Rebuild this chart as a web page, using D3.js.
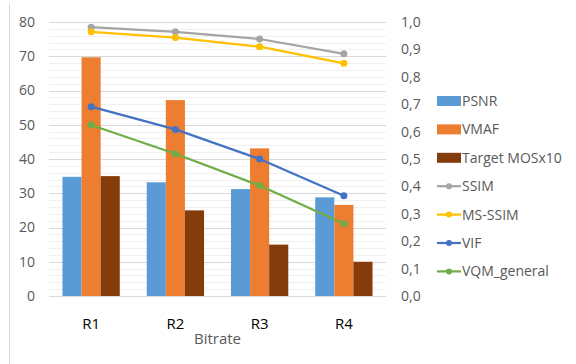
<!DOCTYPE html>
<html>
<head>
<meta charset="utf-8">
<script src="https://cdn.jsdelivr.net/npm/d3@7/dist/d3.min.js"></script>
<style>
  html, body { margin: 0; padding: 0; background: #fff; }
  svg { display: block; font-family: "Open Sans", "DejaVu Sans", sans-serif; }
</style>
</head>
<body>
<svg id="chart" width="576" height="364"></svg>
<script>
// Categories and series
const categories = ["R1", "R2", "R3", "R4"];
const barSeries = ["PSNR", "VMAF", "Target MOSx10"];
const psnr = [34.8, 33.2, 31.2, 28.8];
const vmaf = [69.7, 57.2, 43.1, 26.6];
const targetMos = [35, 25, 15, 10];
const lineSeries = ["SSIM", "MS-SSIM", "VIF", "VQM_general"];
const ssim = [0.981, 0.964, 0.938, 0.884];
const msSsim = [0.964, 0.943, 0.910, 0.849];
const vif = [0.691, 0.608, 0.500, 0.366];
const vqm = [0.624, 0.519, 0.403, 0.264];
const leftTicks = [0, 10, 20, 30, 40, 50, 60, 70, 80];
const rightTicks = [0, 0.1, 0.2, 0.3, 0.4, 0.5, 0.6, 0.7, 0.8, 0.9, 1.0];
const xTitle = "Bitrate";

const barColors = ["#5B9BD5", "#ED7D31", "#843C0C"];
const lineColors = ["#A5A5A5", "#FFC000", "#4472C4", "#70AD47"];

const barData = [psnr, vmaf, targetMos];
const lineData = [ssim, msSsim, vif, vqm];

const svg = d3.select("#chart");
const plot = { left: 49, right: 386, top: 22, bottom: 296 };

const x = d3.scaleBand().domain(categories).range([plot.left, plot.right])
  .paddingInner(0.32).paddingOuter(0.16);
const xInner = d3.scaleBand().domain(barSeries).range([0, x.bandwidth()]);
const yL = d3.scaleLinear().domain([0, 80]).range([plot.bottom, plot.top]);
const yR = d3.scaleLinear().domain([0, 1]).range([plot.bottom, plot.top]);

// outer chart border (left edge)
svg.append("line").attr("x1", 9.5).attr("x2", 9.5).attr("y1", 4).attr("y2", 364)
  .attr("stroke", "#d9d9d9").attr("stroke-width", 1);

// minor gridlines every 2 units
const minor = d3.range(0, 81, 2).filter(v => v % 10 !== 0);
svg.append("g").selectAll("line").data(minor).join("line")
  .attr("x1", plot.left).attr("x2", plot.right)
  .attr("y1", d => Math.round(yL(d)) + 0.5).attr("y2", d => Math.round(yL(d)) + 0.5)
  .attr("stroke", "#f0f0f0").attr("stroke-width", 1);

// major gridlines
svg.append("g").selectAll("line").data(leftTicks).join("line")
  .attr("x1", plot.left).attr("x2", plot.right)
  .attr("y1", d => Math.round(yL(d)) + 0.5).attr("y2", d => Math.round(yL(d)) + 0.5)
  .attr("stroke", "#d9d9d9").attr("stroke-width", 1);

// left axis
const leftAxis = svg.append("g").attr("transform", `translate(${plot.left - 14},0)`)
  .call(d3.axisLeft(yL).tickValues(leftTicks).tickSize(0).tickPadding(0));
leftAxis.select(".domain").remove();
leftAxis.selectAll("text").attr("fill", "#595959").style("font-size", "14px")
  .style("font-family", "'Open Sans', sans-serif");

// right axis
const fmt = d => d3.format(".1f")(d).replace(".", ",");
const rightAxis = svg.append("g").attr("transform", `translate(${plot.right + 15},0)`)
  .call(d3.axisRight(yR).tickValues(rightTicks).tickFormat(fmt).tickSize(0).tickPadding(0));
rightAxis.select(".domain").remove();
rightAxis.selectAll("text").attr("fill", "#595959").style("font-size", "14px")
  .style("font-family", "'Open Sans', sans-serif");

// bars
barSeries.forEach((s, i) => {
  svg.append("g").selectAll("rect").data(barData[i]).join("rect")
    .attr("x", (d, j) => x(categories[j]) + xInner(s))
    .attr("y", d => yL(d))
    .attr("width", xInner.bandwidth())
    .attr("height", d => yL(0) - yL(d))
    .attr("fill", barColors[i]);
});

// lines with markers
const cx = (d, j) => x(categories[j]) + x.bandwidth() / 2;
lineSeries.forEach((s, i) => {
  const line = d3.line().x(cx).y(d => yR(d));
  svg.append("path").datum(lineData[i]).attr("d", line)
    .attr("fill", "none").attr("stroke", lineColors[i]).attr("stroke-width", 2.25)
    .attr("stroke-linecap", "round").attr("stroke-linejoin", "round");
  svg.append("g").selectAll("circle").data(lineData[i]).join("circle")
    .attr("cx", cx).attr("cy", d => yR(d)).attr("r", 3.5)
    .attr("fill", lineColors[i]);
});

// category labels
svg.append("g").selectAll("text").data(categories).join("text")
  .attr("x", d => x(d) + x.bandwidth() / 2).attr("y", 329)
  .attr("text-anchor", "middle").attr("fill", "#000")
  .style("font-size", "15px").text(d => d);

// axis title
svg.append("text").attr("x", (plot.left + plot.right) / 2).attr("y", 344)
  .attr("text-anchor", "middle").attr("fill", "#595959")
  .style("font-size", "15px").text(xTitle);

// legend
const legendItems = barSeries.map((s, i) => ({ name: s, color: barColors[i], type: "bar" }))
  .concat(lineSeries.map((s, i) => ({ name: s, color: lineColors[i], type: "line" })));
const lg = svg.append("g").attr("transform", "translate(437,101)");
const item = lg.selectAll("g").data(legendItems).join("g")
  .attr("transform", (d, i) => `translate(0,${i * 28.4})`);
item.filter(d => d.type === "bar").append("rect")
  .attr("x", 0).attr("y", -5).attr("width", 24).attr("height", 10)
  .attr("fill", d => d.color);
item.filter(d => d.type === "line").append("line")
  .attr("x1", 0).attr("x2", 24).attr("y1", 0).attr("y2", 0)
  .attr("stroke", d => d.color).attr("stroke-width", 2.25);
item.filter(d => d.type === "line").append("circle")
  .attr("cx", 12).attr("cy", 0).attr("r", 3).attr("fill", d => d.color);
item.append("text").attr("x", 25).attr("y", 0).attr("dy", "0.35em")
  .attr("fill", "#595959").style("font-size", "14px").text(d => d.name);
</script>
</body>
</html>
